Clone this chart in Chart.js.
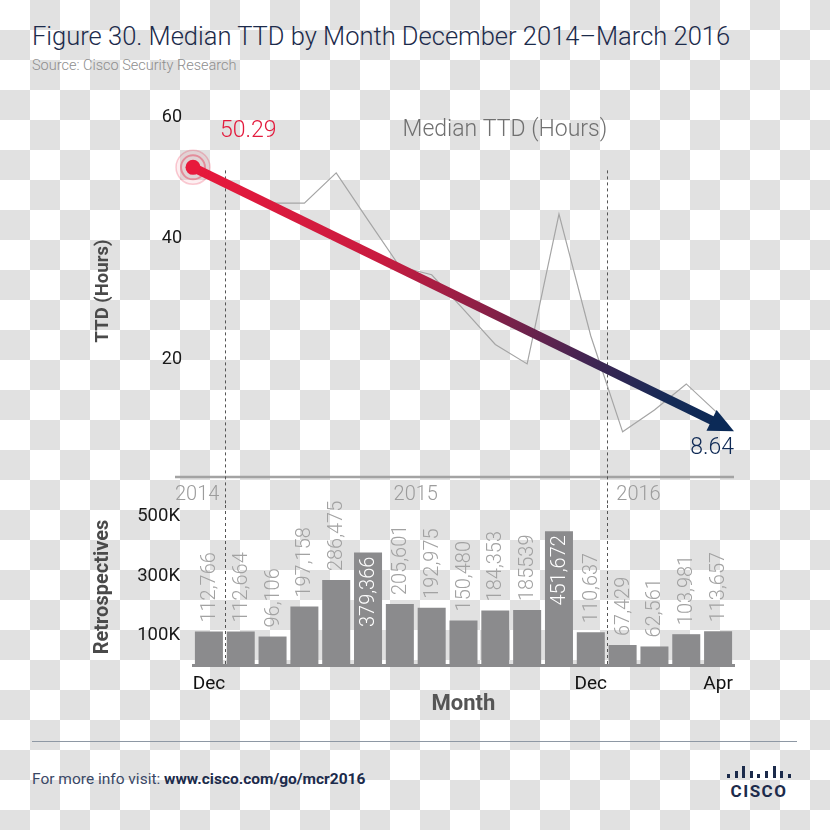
<!DOCTYPE html>
<html><head><meta charset="utf-8">
<script src="https://cdn.jsdelivr.net/npm/chart.js@4.4.1/dist/chart.umd.min.js"></script>
<style>
html,body{margin:0;padding:0;}
body{width:830px;height:830px;position:relative;overflow:hidden;font-family:Roboto,'Liberation Sans',sans-serif;
 background-color:#fff;background-image:conic-gradient(#e1e1e1 0 25%, #fff 0 50%, #e1e1e1 0 75%, #fff 0);background-size:60px 60px;}
#title{position:absolute;left:32px;top:21px;font-size:25.5px;line-height:30px;font-weight:300;color:#1c2b4b;white-space:nowrap;}
#source{position:absolute;left:32px;top:57px;font-size:14.5px;line-height:17px;font-weight:300;color:#8e8e8e;white-space:nowrap;}
#topc{position:absolute;left:0;top:100px;}
#botc{position:absolute;left:0;top:470px;}
#rule{position:absolute;left:32px;top:741px;width:765px;height:1px;background:#8e98a4;}
#more{position:absolute;left:32px;top:770px;font-size:15.5px;line-height:18px;color:#3a4866;white-space:nowrap;}
#more b{color:#1c2b4b;}
#logo{position:absolute;left:725px;top:760px;width:68px;height:40px;}
#logo .bar{position:absolute;bottom:22px;width:3px;background:#1c2b4b;}
#logo .word{position:absolute;left:0;top:21px;width:68px;text-align:center;font-size:17px;font-weight:bold;letter-spacing:1.5px;color:#1c2b4b;line-height:20px;}
</style></head>
<body>
<div id="title">Figure 30. Median TTD by Month December 2014–March 2016</div>
<div id="source">Source: Cisco Security Research</div>
<canvas id="topc" width="830" height="405"></canvas>
<canvas id="botc" width="830" height="250"></canvas>
<div id="rule"></div>
<div id="more">For more info visit: <b>www.cisco.com/go/mcr2016</b></div>
<div id="logo"><div class="word">CISCO</div></div>
<script>
// ---------- data ----------
const months = ['Dec 2014','Jan 2015','Feb 2015','Mar 2015','Apr 2015','May 2015','Jun 2015','Jul 2015','Aug 2015','Sep 2015','Oct 2015','Nov 2015','Dec 2015','Jan 2016','Feb 2016','Mar 2016','Apr 2016'];
const monthTickLabels = ['Dec','','','','','','','','','','','','Dec','','','','Apr'];
const ttdHours = [50.3, 48.0, 45.8, 45.8, 50.8, 43.0, 35.3, 34.0, 28.3, 22.5, 19.3, 44.0, 23.9, 8.1, 11.7, 16.0, 11.1];
const trendEnds = [51.7, 8.2];
const trendLabels = ['50.29', '8.64'];
const retrospectives = [112766, 112664, 96106, 197158, 286475, 379366, 205601, 192975, 150480, 184353, 185539, 451672, 110637, 67429, 62561, 103981, 113657];
const retroLabels = ['112,766','112,664','96,106','197,158','286,475','379,366','205,601','192,975','150,480','184,353','185539','451,672','110,637','67,429','62,561','103,981','113,657'];
const ttdTicks = [20, 40, 60];
const retroTicks = [100000, 300000, 500000];
const retroTickLabels = ['100K', '300K', '500K'];
const yearLabels = ['2014', '2015', '2016'];
const yearPositions = [-0.37, 6.5, 13.5];
const yearBoundaries = [0, 12];
const logoBars = [4, 7, 12, 7, 4, 7, 12, 7, 4];

// logo
(function(){
  const logo = document.getElementById('logo');
  logoBars.forEach((h,i)=>{
    const d=document.createElement('div'); d.className='bar';
    d.style.left=(2+i*7.6)+'px'; d.style.height=h+'px'; logo.appendChild(d);
  });
})();

const FONT = "Roboto, 'Liberation Sans', sans-serif";

function dashedBoundaries(chart, yFrom, yTo){
  const xs = chart.scales.x, ctx = chart.ctx;
  ctx.save();
  ctx.strokeStyle = '#555'; ctx.lineWidth = 1; ctx.setLineDash([3,3]);
  yearBoundaries.forEach(i=>{
    const x = Math.round((xs.getPixelForValue(i)+xs.getPixelForValue(i+1))/2)+0.5;
    ctx.beginPath(); ctx.moveTo(x, yFrom); ctx.lineTo(x, yTo); ctx.stroke();
  });
  ctx.restore();
}

function fixVertical(width){
  return s => { s.width = width; s.paddingTop = 0; s.paddingBottom = 0; };
}

const topPlugin = {
  id:'topDeco',
  beforeDatasetsDraw(chart){
    const {ctx, chartArea:a, scales:{x:xs, y:ys}} = chart;
    ctx.save();
    ctx.strokeStyle = '#a3a3a3'; ctx.lineWidth = 2.5;
    ctx.beginPath(); ctx.moveTo(a.left-18, a.bottom-4); ctx.lineTo(a.right, a.bottom-4); ctx.stroke();
    ctx.restore();
    dashedBoundaries(chart, ys.getPixelForValue(51.2), chart.height);
    ctx.save();
    ctx.font = "300 20px " + FONT; ctx.fillStyle = '#9c9c9c';
    ctx.textAlign = 'center'; ctx.textBaseline = 'middle';
    yearLabels.forEach((t,i)=>ctx.fillText(t, xs.getPixelForValue(yearPositions[i]), a.bottom+14));
    ctx.restore();
    ctx.save();
    ctx.translate(103, 191); ctx.rotate(-Math.PI/2);
    ctx.font = "bold 18.5px " + FONT; ctx.fillStyle = '#4a4a4a';
    ctx.textAlign = 'center'; ctx.textBaseline = 'middle';
    ctx.fillText('TTD (Hours)', 0, 0);
    ctx.restore();
    ctx.save();
    ctx.font = "300 23px " + FONT; ctx.fillStyle = '#707070';
    ctx.textAlign = 'center'; ctx.textBaseline = 'middle';
    ctx.fillText('Median TTD (Hours)', xs.getPixelForValue(9.3), a.top+13);
    ctx.restore();
  },
  afterDatasetsDraw(chart){
    const {ctx, chartArea:a, scales:{x:xs, y:ys}} = chart;
    const x0 = xs.getPixelForValue(-0.5), y0 = ys.getPixelForValue(trendEnds[0]);
    const x1 = xs.getPixelForValue(months.length-0.5), y1 = ys.getPixelForValue(trendEnds[1]);
    const ang = Math.atan2(y1-y0, x1-x0);
    const headLen = 25, headHalf = 11.5;
    const bx = x1 - Math.cos(ang)*(headLen-4), by = y1 - Math.sin(ang)*(headLen-4);
    const g = ctx.createLinearGradient(x0,y0,x1,y1);
    g.addColorStop(0,'#e8193c'); g.addColorStop(0.35,'#c81c40'); g.addColorStop(0.55,'#862047');
    g.addColorStop(0.72,'#452552'); g.addColorStop(0.88,'#142a56'); g.addColorStop(1,'#0b2a57');
    ctx.save();
    ctx.strokeStyle = g; ctx.lineWidth = 9; ctx.lineCap = 'butt';
    ctx.beginPath(); ctx.moveTo(x0,y0); ctx.lineTo(bx,by); ctx.stroke();
    const hx = x1 - Math.cos(ang)*headLen, hy = y1 - Math.sin(ang)*headLen;
    ctx.fillStyle = '#0b2a57';
    ctx.beginPath();
    ctx.moveTo(x1,y1);
    ctx.lineTo(hx + Math.sin(ang)*headHalf, hy - Math.cos(ang)*headHalf);
    ctx.lineTo(hx - Math.sin(ang)*headHalf, hy + Math.cos(ang)*headHalf);
    ctx.closePath(); ctx.fill();
    ctx.fillStyle = 'rgba(232,25,60,0.07)';
    ctx.beginPath(); ctx.arc(x0,y0,17,0,Math.PI*2); ctx.fill();
    ctx.lineWidth = 1.5; ctx.strokeStyle = 'rgba(232,25,60,0.22)';
    ctx.beginPath(); ctx.arc(x0,y0,17,0,Math.PI*2); ctx.stroke();
    ctx.lineWidth = 2; ctx.strokeStyle = 'rgba(232,25,60,0.38)';
    ctx.beginPath(); ctx.arc(x0,y0,12,0,Math.PI*2); ctx.stroke();
    ctx.fillStyle = '#e8193c';
    ctx.beginPath(); ctx.arc(x0,y0,7.5,0,Math.PI*2); ctx.fill();
    ctx.font = "300 23px " + FONT; ctx.textBaseline = 'middle';
    ctx.fillStyle = '#e31b3d'; ctx.textAlign = 'left';
    ctx.fillText(trendLabels[0], x0+27, a.top+14);
    ctx.fillStyle = '#0f2a55'; ctx.textAlign = 'right';
    ctx.fillText(trendLabels[1], x1, y1+17);
    ctx.restore();
  }
};

new Chart(document.getElementById('topc'), {
  type:'line',
  data:{labels:months, datasets:[{data:ttdHours, borderColor:'#a5a5a5', borderWidth:1.2, pointRadius:0, tension:0, fill:false}]},
  options:{
    responsive:false, animation:false, devicePixelRatio:1,
    layout:{padding:{left:0,right:96,top:17,bottom:24}},
    plugins:{legend:{display:false}, tooltip:{enabled:false}},
    scales:{
      x:{display:false, offset:true},
      y:{min:0, max:60,
         afterFit:fixVertical(193),
         afterBuildTicks:s=>{s.ticks = ttdTicks.map(v=>({value:v}));},
         grid:{display:false, drawTicks:false}, border:{display:false},
         ticks:{padding:11, color:'#1a1a1a', font:{family:FONT, size:18}}}
    }
  },
  plugins:[topPlugin]
});

const botPlugin = {
  id:'botDeco',
  beforeDatasetsDraw(chart){
    const {ctx, chartArea:a} = chart;
    dashedBoundaries(chart, a.top, a.bottom);
    ctx.save();
    ctx.translate(103, (a.top+a.bottom)/2 + 2); ctx.rotate(-Math.PI/2);
    ctx.font = "bold 20px " + FONT; ctx.fillStyle = '#4a4a4a';
    ctx.textAlign = 'center'; ctx.textBaseline = 'middle';
    ctx.fillText('Retrospectives', 0, 0);
    ctx.restore();
  },
  afterDatasetsDraw(chart){
    const {ctx} = chart;
    const meta = chart.getDatasetMeta(0);
    ctx.save();
    ctx.font = "300 20px " + FONT; ctx.textBaseline = 'middle';
    meta.data.forEach((el,i)=>{
      const inside = retrospectives[i] > 350000;
      ctx.save();
      ctx.translate(el.x, inside ? el.y+4 : el.y-9);
      ctx.rotate(-Math.PI/2);
      ctx.textAlign = inside ? 'right' : 'left';
      ctx.fillStyle = inside ? '#ffffff' : '#a2a2a2';
      ctx.fillText(retroLabels[i], 0, 1);
      ctx.restore();
    });
    ctx.restore();
  }
};

new Chart(document.getElementById('botc'), {
  type:'bar',
  data:{labels:months, datasets:[{data:retrospectives, backgroundColor:'#8b8b8d', barPercentage:0.88, categoryPercentage:1}]},
  options:{
    responsive:false, animation:false, devicePixelRatio:1,
    layout:{padding:{left:0,right:96,top:35,bottom:0}},
    plugins:{legend:{display:false}, tooltip:{enabled:false}},
    scales:{
      x:{offset:true,
         afterFit:s=>{s.height=55;},
         grid:{display:false, drawTicks:false},
         border:{display:true, color:'#8b8b8d', width:3},
         ticks:{autoSkip:false, maxRotation:0, padding:8, color:'#111', font:{family:FONT, size:19},
                callback:(v,i)=>monthTickLabels[i]},
         title:{display:true, text:'Month', color:'#555', font:{family:FONT, size:22, weight:'bold'}, padding:{top:0,bottom:2}}},
      y:{min:0, max:540000,
         afterFit:fixVertical(193),
         afterBuildTicks:s=>{s.ticks = retroTicks.map(v=>({value:v}));},
         grid:{display:false, drawTicks:false}, border:{display:false},
         ticks:{padding:13, color:'#1a1a1a', font:{family:FONT, size:18.5},
                callback:(v)=>retroTickLabels[retroTicks.indexOf(v)]}}
    }
  },
  plugins:[botPlugin]
});
</script>
</body></html>
